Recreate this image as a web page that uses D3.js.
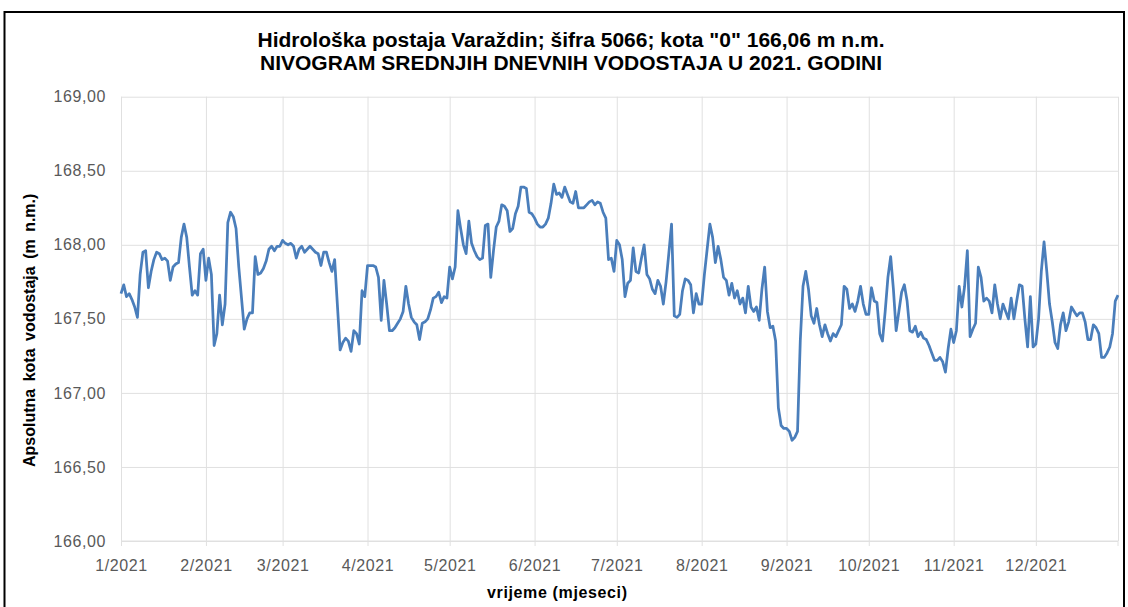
<!DOCTYPE html>
<html>
<head>
<meta charset="utf-8">
<script src="https://cdn.jsdelivr.net/npm/d3@7"></script>
<style>
  body { margin: 0; background: #fff; }
  svg { display: block; }
  text { font-family: "Liberation Sans", Arial, sans-serif; }
</style>
</head>
<body>
<svg id="chart" width="1128" height="607"></svg>
<script>
// Chart text
const titleLines = [
  "Hidrološka postaja Varaždin; šifra 5066; kota \"0\" 166,06 m n.m.",
  "NIVOGRAM SREDNJIH DNEVNIH VODOSTAJA U 2021. GODINI"
];
const yAxisTitle = "Apsolutna kota vodostaja (m n.m.)";
const xAxisTitle = "vrijeme (mjeseci)";

// Axis ticks
const yTicks = [166.0, 166.5, 167.0, 167.5, 168.0, 168.5, 169.0];
const monthTicks = ["1/2021", "2/2021", "3/2021", "4/2021", "5/2021", "6/2021",
                    "7/2021", "8/2021", "9/2021", "10/2021", "11/2021", "12/2021"];

// Mean daily water level (m a.s.l.); day 0 = 1 January 2021
const dayOfYear = [
  0,1,2,3,4,5,6,7,8,9,10,11,12,13,14,15,16,17,18,19,20,21,22,23,24,25,26,27,28,29,
  30,31,32,33,34,35,36,37,38,39,40,41,42,43,45,46,47,48,49,50,51,52,53,54,55,56,57,58,59,
  60,61,62,63,64,65,66,67,68,69,70,71,72,73,74,75,76,77,78,80,81,82,83,84,85,86,87,88,89,
  90,91,92,93,94,95,96,97,98,99,100,101,102,103,104,105,106,107,108,109,110,111,112,113,114,115,116,117,118,119,
  120,121,122,123,124,125,126,127,128,129,130,131,132,133,134,135,136,137,138,139,140,141,142,143,144,145,146,147,148,149,
  150,151,152,153,154,155,156,157,158,159,160,161,162,163,164,165,166,167,168,169,170,171,172,173,174,175,176,177,178,179,
  180,181,182,183,184,185,186,187,188,189,190,191,192,193,194,195,196,197,198,199,200,201,202,203,204,205,206,207,208,209,
  210,211,212,213,214,215,216,217,218,219,220,221,222,223,224,225,226,227,228,229,230,231,232,233,234,235,236,237,238,239,
  240,241,242,243,244,245,246,247,248,249,250,251,252,253,254,255,256,257,258,259,260,261,262,263,264,265,266,267,268,269,
  270,271,272,273,274,275,276,277,278,279,280,281,282,283,284,285,286,287,288,289,290,291,292,293,294,295,296,297,298,299,
  300,301,302,303,304,305,306,307,308,309,310,311,312,313,314,315,316,317,318,319,320,321,322,323,324,325,326,327,328,329,
  330,331,332,333,334,335,336,337,338,339,340,341,342,343,344,345,346,347,348,349,350,351,352,353,354,355,356,357,358,359,
  360,361,362,363,364
];
const waterLevel = [
  167.67,167.73,167.65,167.67,167.63,167.58,167.51,167.80,167.95,167.96,167.71,167.82,167.90,167.95,167.94,167.90,167.91,167.89,167.76,167.85,167.87,167.88,168.05,168.14,168.05,167.85,167.66,167.69,167.66,167.94,
  167.97,167.76,167.91,167.80,167.32,167.40,167.66,167.46,167.60,168.15,168.22,168.19,168.11,167.85,167.43,167.50,167.54,167.54,167.92,167.80,167.81,167.84,167.89,167.97,167.99,167.96,167.99,167.99,168.03,
  168.01,168.00,168.01,167.99,167.91,167.97,167.99,167.95,167.97,167.99,167.97,167.95,167.94,167.86,167.95,167.95,167.88,167.82,167.90,167.29,167.34,167.37,167.35,167.28,167.42,167.40,167.33,167.69,167.65,
  167.86,167.86,167.86,167.85,167.78,167.49,167.76,167.60,167.42,167.42,167.44,167.47,167.50,167.55,167.72,167.60,167.51,167.48,167.46,167.36,167.47,167.48,167.50,167.56,167.64,167.65,167.68,167.61,167.65,167.64,
  167.85,167.77,167.85,168.23,168.11,168.00,167.94,168.16,168.01,167.96,167.92,167.90,167.91,168.13,168.14,167.78,167.96,168.12,168.16,168.27,168.26,168.23,168.09,168.11,168.21,168.26,168.39,168.39,168.38,168.22,
  168.21,168.18,168.14,168.12,168.12,168.14,168.18,168.28,168.41,168.34,168.35,168.32,168.39,168.34,168.29,168.28,168.36,168.25,168.25,168.25,168.27,168.29,168.30,168.27,168.29,168.28,168.22,168.18,167.90,167.91,
  167.82,168.03,168.00,167.90,167.65,167.74,167.76,167.98,167.82,167.81,167.91,168.00,167.80,167.77,167.70,167.67,167.76,167.72,167.60,167.75,167.94,168.14,167.52,167.51,167.53,167.69,167.77,167.76,167.73,167.54,
  167.67,167.60,167.60,167.80,167.97,168.14,168.05,167.88,167.99,167.90,167.78,167.76,167.66,167.74,167.64,167.69,167.60,167.64,167.54,167.72,167.58,167.55,167.58,167.49,167.70,167.85,167.55,167.44,167.45,167.35,
  166.90,166.78,166.76,166.76,166.74,166.68,166.70,166.74,167.35,167.72,167.82,167.70,167.52,167.47,167.57,167.46,167.38,167.46,167.40,167.35,167.40,167.38,167.42,167.46,167.72,167.70,167.57,167.60,167.55,167.62,
  167.72,167.60,167.53,167.53,167.71,167.62,167.61,167.40,167.35,167.55,167.78,167.92,167.70,167.42,167.55,167.68,167.73,167.62,167.42,167.41,167.45,167.38,167.41,167.37,167.36,167.32,167.27,167.22,167.22,167.24,
  167.21,167.14,167.30,167.43,167.34,167.42,167.72,167.58,167.72,167.96,167.38,167.43,167.47,167.85,167.78,167.62,167.64,167.62,167.54,167.73,167.60,167.50,167.60,167.55,167.50,167.64,167.50,167.62,167.73,167.72,
  167.50,167.31,167.65,167.31,167.33,167.50,167.82,168.02,167.82,167.60,167.48,167.34,167.30,167.46,167.54,167.42,167.48,167.58,167.55,167.52,167.54,167.54,167.48,167.36,167.36,167.46,167.44,167.40,167.24,167.24,
  167.27,167.31,167.40,167.62,167.66
];

const yearStart = new Date(2021, 0, 1);
const series = dayOfYear.map((d, i) => ({ date: d3.timeDay.offset(yearStart, d), value: waterLevel[i] }));
const monthStarts = monthTicks.map(t => {
  const [m, y] = t.split("/").map(Number);
  return new Date(y, m - 1, 1);
});

const svg = d3.select("#chart");
const plot = { left: 121, right: 1118, top: 96.7, bottom: 541 };
const gridColor = "#e0e0e0";
const labelColor = "#595959";

const x = d3.scaleTime()
  .domain([yearStart, new Date(2021, 11, 31)])
  .range([plot.left, plot.right]);
const y = d3.scaleLinear()
  .domain([166, 169])
  .range([plot.bottom, plot.top]);

// Outer frame of the chart area
svg.append("rect")
  .attr("x", 4.5).attr("y", 12)
  .attr("width", 1119.5).attr("height", 620)
  .attr("fill", "none").attr("stroke", "#000").attr("stroke-width", 2);

// Horizontal gridlines with value labels
const yAxis = svg.append("g")
  .attr("transform", `translate(${plot.left},0)`)
  .call(d3.axisLeft(y)
    .tickValues(yTicks)
    .tickSize(-(plot.right - plot.left))
    .tickPadding(15)
    .tickFormat(d => d.toFixed(2).replace(".", ",")));
yAxis.select(".domain").remove();
yAxis.selectAll(".tick line").attr("stroke", gridColor).attr("stroke-width", 1);
yAxis.selectAll(".tick text")
  .attr("fill", labelColor)
  .style("font-size", "16px")
  .style("letter-spacing", "0.6px");

// Vertical gridlines at month starts
const xGrid = svg.append("g")
  .attr("transform", `translate(0,${plot.top})`)
  .call(d3.axisBottom(x)
    .tickValues(monthStarts.concat([new Date(2021, 11, 31)]))
    .tickSize(plot.bottom - plot.top)
    .tickFormat(""));
xGrid.select(".domain").remove();
xGrid.selectAll(".tick line").attr("stroke", gridColor).attr("stroke-width", 1);

// Bottom axis with month labels
const xAxis = svg.append("g")
  .attr("transform", `translate(0,${plot.bottom})`)
  .call(d3.axisBottom(x)
    .tickValues(monthStarts)
    .tickSize(5)
    .tickSizeOuter(0)
    .tickPadding(14)
    .tickFormat((d, i) => monthTicks[i]));
xAxis.select(".domain").attr("stroke", gridColor).attr("stroke-width", 1)
  .attr("d", `M${plot.left},0H${plot.right}`);
xAxis.selectAll(".tick line").attr("stroke", gridColor);
xAxis.selectAll(".tick text")
  .attr("fill", labelColor)
  .style("font-size", "16px")
  .style("letter-spacing", "0.6px");
// closing tick at the year end
xAxis.append("line")
  .attr("x1", plot.right).attr("x2", plot.right)
  .attr("y1", 0).attr("y2", 5)
  .attr("stroke", gridColor);

// Water level line
const line = d3.line()
  .x(d => x(d.date))
  .y(d => y(d.value));
svg.append("path")
  .datum(series)
  .attr("fill", "none")
  .attr("stroke", "#4a7ebb")
  .attr("stroke-width", 2.75)
  .attr("stroke-linejoin", "round")
  .attr("d", line);

// Titles
const titleWidths = [627, 622];
svg.selectAll(".title")
  .data(titleLines)
  .enter().append("text")
  .attr("class", "title")
  .attr("x", 571)
  .attr("y", (d, i) => 47 + i * 23)
  .attr("text-anchor", "middle")
  .attr("textLength", (d, i) => titleWidths[i])
  .attr("lengthAdjust", "spacingAndGlyphs")
  .attr("fill", "#000")
  .style("font-size", "20px")
  .style("font-weight", "bold")
  .text(d => d);

svg.append("text")
  .attr("transform", "translate(35,467) rotate(-90)")
  .attr("text-anchor", "start")
  .attr("fill", "#000")
  .style("font-size", "16px")
  .style("font-weight", "bold")
  .style("word-spacing", "3px")
  .text(yAxisTitle);

svg.append("text")
  .attr("x", 557)
  .attr("y", 598)
  .attr("text-anchor", "middle")
  .attr("textLength", 140)
  .attr("lengthAdjust", "spacing")
  .attr("fill", "#000")
  .style("font-size", "16px")
  .style("font-weight", "bold")
  .text(xAxisTitle);
</script>
</body>
</html>
